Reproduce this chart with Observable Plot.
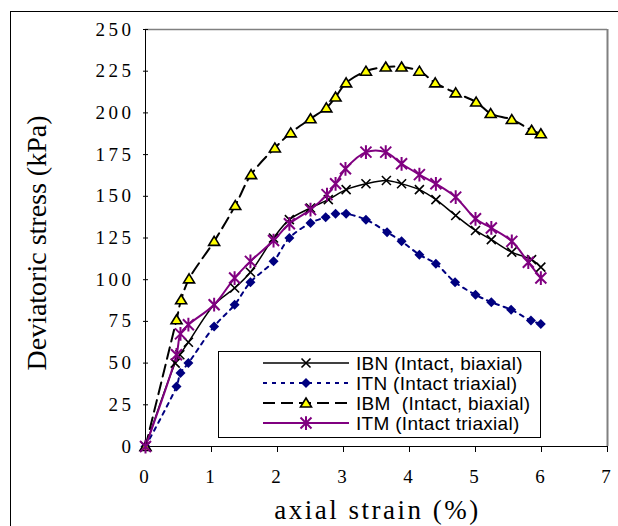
<!DOCTYPE html>
<html><head><meta charset="utf-8">
<script src="https://cdn.jsdelivr.net/npm/d3@7"></script>
<script src="https://cdn.jsdelivr.net/npm/@observablehq/plot@0.6"></script>
<style>
body{margin:0;background:#fff}
#wrap{position:relative;width:618px;height:526px;overflow:hidden;background:#fff}
#border{position:absolute;left:10px;top:11px;width:800px;height:800px;border-left:1px solid #000;border-top:1px solid #000;pointer-events:none}
#legend{position:absolute;left:0;top:0}
#wrap svg g[aria-label="y-axis tick label"] text{letter-spacing:3.5px}
#wrap svg g[aria-label="x-axis tick label"] text{letter-spacing:3px}
</style></head><body>
<div id="wrap"></div>
<script>
// ---- data ----
const xTicks = [0,1,2,3,4,5,6,7];
const yTicks = [0,25,50,75,100,125,150,175,200,225,250];

const strainIBN = [0,0.45,0.52,0.65,1.04,1.35,1.59,1.94,2.18,2.5,2.77,3.04,3.34,3.65,3.88,4.15,4.40,4.70,5.0,5.24,5.55,5.85,5.99];
const stressIBN = [0,50,55,62.5,85,95,104.5,125,136,143,148,154,157.5,159.5,157.5,154,148,138.5,129.5,124,116.5,112,107.5];

const strainITN = [0,0.47,0.53,0.65,1.04,1.35,1.59,1.94,2.18,2.5,2.73,2.88,3.04,3.34,3.66,3.88,4.15,4.40,4.69,5.0,5.24,5.54,5.84,5.99];
const stressITN = [0,36,44,50,72,85,98.5,111,125,134,137.5,139.5,139.5,136,128.5,123,115,109.5,98.5,91,86.5,82,75.5,73.5];

const strainIBM = [0,0.47,0.54,0.66,1.04,1.36,1.6,1.96,2.2,2.5,2.74,2.88,3.04,3.34,3.64,3.88,4.15,4.39,4.70,5.01,5.23,5.55,5.85,5.99];
const stressIBM = [0,76,88,100.5,123,144.5,163,179,188,196.5,203,209.5,218,225,227.5,227.5,225,218,212,206.5,199.6,196,189.6,187.5];

const strainITM = [0,0.47,0.53,0.65,1.04,1.35,1.59,1.94,2.18,2.5,2.75,2.88,3.03,3.34,3.64,3.88,4.15,4.40,4.70,5.0,5.24,5.55,5.8,5.99];
const stressITM = [0,55,67.5,73,85,101,111,123.5,133.5,142,151,157.5,166.5,176.5,176.5,169.5,163,157.5,149.5,136.5,131,123,110.5,101];

const seriesNames = ["IBN (Intact, biaxial)","ITN (Intact triaxial)","IBM  (Intact, biaxial)","ITM (Intact triaxial)"];
const xLabel = "axial strain (%)";
const yLabel = "Deviatoric stress (kPa)";

// ---- marker shapes ----
const kOf = s => Math.sqrt(s / Math.PI);
const symX = {draw(c,s){const k=kOf(s),r=4.5*k;c.moveTo(-r,-r);c.lineTo(r,r);c.moveTo(r,-r);c.lineTo(-r,r);}};
const symStar = {draw(c,s){const k=kOf(s),r=5.5*k;c.moveTo(-r,-r);c.lineTo(r,r);c.moveTo(r,-r);c.lineTo(-r,r);c.moveTo(0,-r*1.25);c.lineTo(0,r*1.25);}};
const symTri = {draw(c,s){const k=kOf(s);c.moveTo(0,-5*k);c.lineTo(5.5*k,4*k);c.lineTo(-5.5*k,4*k);c.closePath();}};
const symDia = {draw(c,s){const k=kOf(s);c.moveTo(0,-5*k);c.lineTo(5*k,0);c.lineTo(0,5*k);c.lineTo(-5*k,0);c.closePath();}};

const styles = [
  {x:strainIBN, y:stressIBN, stroke:"#000", sw:1.5, dash:null, sym:symX, mfill:"none", mstroke:"#000", msw:1.6},
  {x:strainITN, y:stressITN, stroke:"#000080", sw:2, dash:"4,5", sym:symDia, mfill:"#000080", mstroke:"none", msw:0},
  {x:strainIBM, y:stressIBM, stroke:"#000", sw:2, dash:"12,6", sym:symTri, mfill:"#ffff00", mstroke:"#000", msw:1.6},
  {x:strainITM, y:stressITM, stroke:"#800080", sw:2, dash:null, sym:symStar, mfill:"none", mstroke:"#800080", msw:2}
];

const marks = [
  Plot.ruleY([250], {stroke:"#808080", strokeWidth:1.5}),
  Plot.ruleX([7], {stroke:"#808080", strokeWidth:2}),
  Plot.axisY({ticks:yTicks, tickSize:5, tickPadding:9, fontSize:19, fontFamily:"Liberation Serif", label:null, color:"#000", dx:3}),
  Plot.axisX({ticks:xTicks, tickFormat:"d", tickSize:6, tickPadding:17, fontSize:19, fontFamily:"Liberation Serif", label:null, color:"#000"}),
  Plot.ruleX([0], {stroke:"#000", strokeWidth:1}),
  Plot.ruleY([0], {stroke:"#000", strokeWidth:1}),
  Plot.text([yLabel], {frameAnchor:"left", textAnchor:"middle", lineAnchor:"middle", rotate:-90, dx:-108, dy:5, fontSize:28, fontFamily:"Liberation Serif", fill:"#000"}),
  Plot.text([xLabel], {frameAnchor:"bottom", lineAnchor:"middle", dy:64, dx:1, fontSize:27, fontFamily:"Liberation Serif", fill:"#000"})
];
styles.forEach(s => {
  const idx = d3.range(s.x.length);
  marks.push(Plot.line(idx, {x:i=>s.x[i], y:i=>s.y[i], stroke:s.stroke, strokeWidth:s.sw, strokeDasharray:s.dash, curve:"catmull-rom"}));
});
styles.forEach(s => {
  const idx = d3.range(s.x.length);
  marks.push(Plot.dot(idx, {x:i=>s.x[i], y:i=>s.y[i], symbol:s.sym, r:1, fill:s.mfill, stroke:s.mstroke, strokeWidth:s.msw}));
});

const chart = Plot.plot({
  width:618, height:526,
  marginLeft:145, marginRight:11, marginTop:29, marginBottom:80,
  x:{domain:[0,7]}, y:{domain:[0,250]},
  style:{background:"transparent", overflow:"visible"},
  marks
});
d3.select(chart).selectAll("text").filter(function(){return this.textContent === xLabel;}).attr("letter-spacing", "2.5");
const wrap = document.getElementById("wrap");
wrap.appendChild(chart);

// ---- legend ----
const ns = "http://www.w3.org/2000/svg";
const lg = document.createElementNS(ns, "svg");
lg.setAttribute("id","legend"); lg.setAttribute("width",618); lg.setAttribute("height",526);
let html = `<rect x="218.5" y="351.5" width="322" height="86" fill="#fff" stroke="#000" stroke-width="1"/>`;
styles.forEach((s,i) => {
  const cy = 363 + i*20;
  html += `<line x1="263" x2="349" y1="${cy}" y2="${cy}" stroke="${s.stroke}" stroke-width="${s.sw}" ${s.dash?`stroke-dasharray="${s.dash}"`:""}/>`;
  const p = d3.symbol(s.sym, Math.PI)();
  html += `<path transform="translate(306,${cy})" d="${p}" fill="${s.mfill}" stroke="${s.mstroke}" stroke-width="${s.msw}"/>`;
  html += `<text x="356" y="${cy}" dy="0.36em" font-family="Liberation Sans" font-size="19" letter-spacing="0.3" fill="#000" xml:space="preserve">${seriesNames[i]}</text>`;
});
lg.innerHTML = html;
wrap.appendChild(lg);
const b = document.createElement("div"); b.id="border"; wrap.appendChild(b);
</script>
</body></html>
